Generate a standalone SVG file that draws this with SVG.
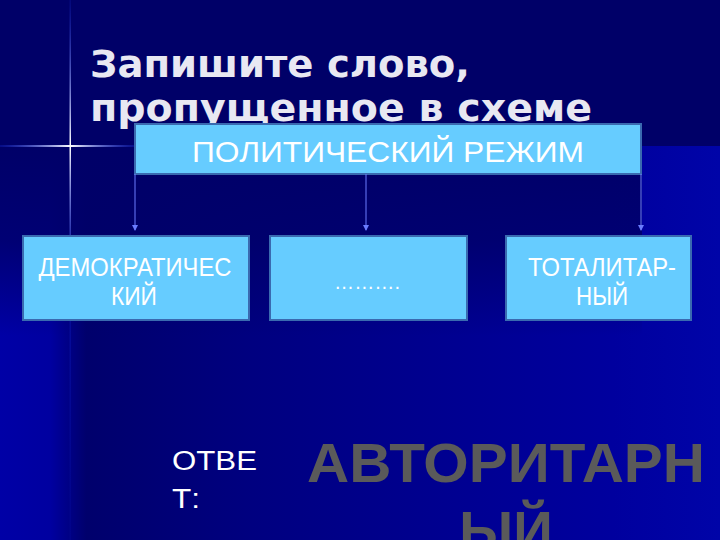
<svg xmlns="http://www.w3.org/2000/svg" width="720" height="540" viewBox="0 0 720 540">
<defs>
<linearGradient id="bgH" x1="0" y1="0" x2="1" y2="0">
<stop offset="0" stop-color="#0000a6"/>
<stop offset="0.07" stop-color="#0000a0"/>
<stop offset="0.12" stop-color="#00006c"/>
<stop offset="0.35" stop-color="#000080"/>
<stop offset="0.85" stop-color="#00009e"/>
<stop offset="1" stop-color="#0004a8"/>
</linearGradient>
<linearGradient id="fadeV" x1="0" y1="0" x2="0" y2="1">
<stop offset="0" stop-color="#000068" stop-opacity="1"/>
<stop offset="0.5" stop-color="#000068" stop-opacity="0.8"/>
<stop offset="1" stop-color="#000068" stop-opacity="0"/>
</linearGradient>
<linearGradient id="flareH" x1="0" y1="0" x2="1" y2="0">
<stop offset="0" stop-color="#2040ff" stop-opacity="0.2"/>
<stop offset="0.52" stop-color="#ffffff" stop-opacity="1"/>
<stop offset="1" stop-color="#2040ff" stop-opacity="0.2"/>
</linearGradient>
<linearGradient id="flareV" x1="0" y1="0" x2="0" y2="1">
<stop offset="0" stop-color="#2040ff" stop-opacity="0.12"/>
<stop offset="0.27" stop-color="#ffffff" stop-opacity="1"/>
<stop offset="0.5" stop-color="#2040ff" stop-opacity="0.2"/>
<stop offset="1" stop-color="#2040ff" stop-opacity="0.05"/>
</linearGradient>
<marker id="arr" markerWidth="6" markerHeight="6" refX="5" refY="3" orient="auto" markerUnits="userSpaceOnUse">
<path d="M0,0 L6,3 L0,6 z" fill="#6a7cff"/>
</marker>
</defs>
<style>
.box{fill:#66ccff;stroke:#3a6ab0;stroke-width:2}
.lbl{font-family:"Liberation Sans",Arial,sans-serif;fill:#ffffff;text-anchor:middle}
.title{font-family:"DejaVu Sans",Verdana,sans-serif;font-weight:bold;fill:#e8e8f2;font-size:38px}
.conn{stroke:#6a7cff;stroke-width:1;fill:none}
</style>
<rect width="720" height="540" fill="#000068"/>
<rect x="0" y="146" width="720" height="394" fill="url(#bgH)"/>
<rect x="0" y="146" width="642" height="190" fill="url(#fadeV)"/>
<rect x="69.5" y="0" width="1.5" height="540" fill="url(#flareV)"/>
<rect x="0" y="145" width="136" height="2" fill="url(#flareH)"/>
<text class="title" x="90" y="77" textLength="380" lengthAdjust="spacingAndGlyphs">Запишите слово,</text>
<text class="title" x="90" y="121" textLength="502" lengthAdjust="spacingAndGlyphs">пропущенное в схеме</text>
<g id="n-root">
<rect class="box" x="135" y="124" width="506" height="50"/>
<text class="lbl" x="388" y="162" font-size="30" textLength="392" lengthAdjust="spacingAndGlyphs">ПОЛИТИЧЕСКИЙ РЕЖИМ</text>
</g>
<g id="connectors">
<line class="conn" x1="135" y1="174" x2="135" y2="230" marker-end="url(#arr)"/>
<line class="conn" x1="366" y1="174" x2="366" y2="230" marker-end="url(#arr)"/>
<line class="conn" x1="641" y1="174" x2="641" y2="230" marker-end="url(#arr)"/>
</g>
<g id="n-demo">
<rect class="box" x="23" y="236" width="226" height="84"/>
<text class="lbl" x="135" y="276" font-size="25" textLength="193" lengthAdjust="spacingAndGlyphs">ДЕМОКРАТИЧЕС</text>
<text class="lbl" x="134" y="305" font-size="25" textLength="46" lengthAdjust="spacingAndGlyphs">КИЙ</text>
</g>
<g id="n-missing">
<rect class="box" x="270" y="236" width="197" height="84"/>
<text class="lbl" x="367" y="289" font-size="20" textLength="66" lengthAdjust="spacingAndGlyphs">……….</text>
</g>
<g id="n-total">
<rect class="box" x="506" y="236" width="185" height="84"/>
<text class="lbl" x="602" y="276" font-size="25" textLength="148" lengthAdjust="spacingAndGlyphs">ТОТАЛИТАР-</text>
<text class="lbl" x="602" y="305" font-size="25" textLength="52" lengthAdjust="spacingAndGlyphs">НЫЙ</text>
</g>
<text x="172" y="470" font-family="Liberation Sans, Arial, sans-serif" font-size="27" fill="#ffffff" textLength="85" lengthAdjust="spacingAndGlyphs">ОТВЕ</text>
<text x="172" y="508" font-family="Liberation Sans, Arial, sans-serif" font-size="27" fill="#ffffff" textLength="28" lengthAdjust="spacingAndGlyphs">Т:</text>
<text x="506" y="482" font-family="Liberation Sans, Arial, sans-serif" font-weight="bold" font-size="55" fill="#5a5a5a" text-anchor="middle" textLength="398" lengthAdjust="spacingAndGlyphs">АВТОРИТАРН</text>
<text x="506" y="550" font-family="Liberation Sans, Arial, sans-serif" font-weight="bold" font-size="55" fill="#5a5a5a" text-anchor="middle">ЫЙ</text>
</svg>
